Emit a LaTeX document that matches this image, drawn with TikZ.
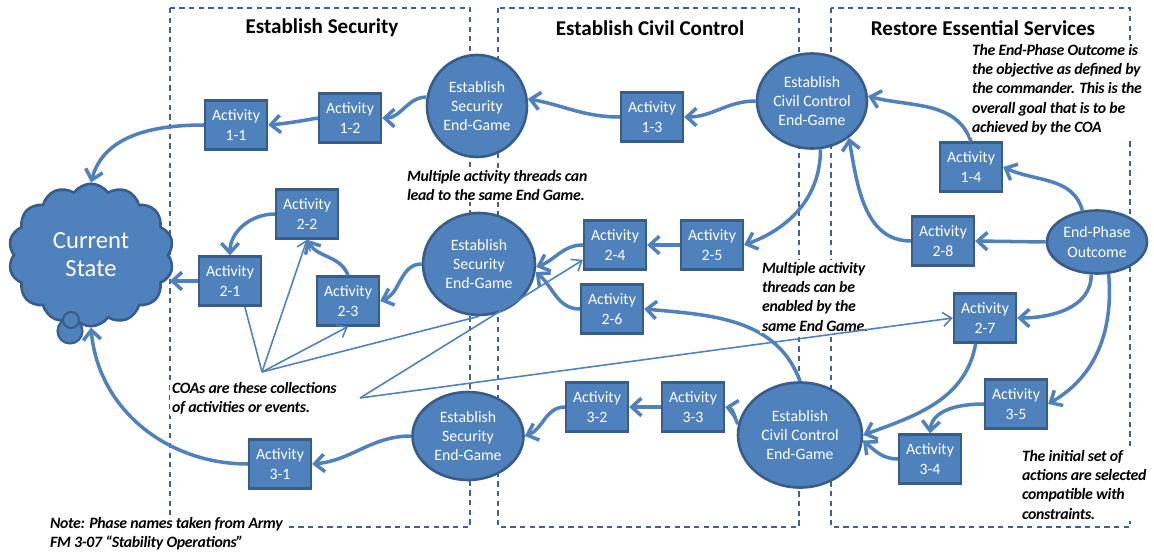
\documentclass[tikz,border=0pt]{standalone}
\usepackage{fontspec}
\setmainfont{Carlito}
\usetikzlibrary{shapes.geometric}
\usetikzlibrary{shapes.symbols}
\usetikzlibrary{arrows.meta}

\definecolor{boxfill}{HTML}{4F81BD}
\definecolor{boxline}{HTML}{385D8A}
\definecolor{panelline}{HTML}{44618A}

\begin{document}
\begin{tikzpicture}[x=0.02cm,y=-0.02cm]
	\tikzset{activity/.style = {shape=rectangle,draw=boxline,fill=boxfill,line width=1.3pt,
			minimum width=1.24cm,minimum height=0.98cm,inner sep=0pt,text=white,align=center,
			font=\fontsize{9}{11}\selectfont}}
	\tikzset{endgame/.style = {shape=ellipse,draw=boxline,fill=boxfill,line width=1.5pt,
			inner sep=0pt,text=white,align=center,font=\fontsize{9}{11}\selectfont}}
	\tikzset{state/.style = {shape=cloud,cloud puffs=14,cloud puff arc=110,aspect=1.2,
			draw=boxline,fill=boxfill,line width=1.5pt,minimum width=3.3cm,minimum height=2.85cm,
			inner sep=0pt,text=white,align=center,font=\fontsize{14}{16}\selectfont}}
	\tikzset{puff/.style = {draw=boxline,fill=boxfill,line width=1.2pt}}
	\tikzset{flow/.style = {-{Straight Barb[length=5.5pt,width=10pt]},draw=boxfill,line width=2pt}}
	\tikzset{coa/.style = {draw=boxfill,line width=0.9pt}}
	\tikzset{coatip/.style = {coa,-{Straight Barb[length=5pt,width=8pt]}}}
	\tikzset{panel/.style = {draw=panelline,line width=0.7pt,dash pattern=on 3pt off 2.5pt}}
	\tikzset{phase/.style = {font=\bfseries\fontsize{12}{14}\selectfont}}
	\tikzset{remark/.style = {anchor=north west,align=left,fill=white,inner sep=1pt,
			font=\bfseries\itshape\fontsize{9}{11}\selectfont\addfontfeatures{LetterSpace=-2}}}
	
	\useasboundingbox (0,0) rectangle (1154,554);
	
	% phases
	\draw[panel] (170,8) rectangle (470,527);
	\draw[panel] (498,8) rectangle (799,527);
	\draw[panel] (831,8) rectangle (1130,527);
	\node[phase] (t1) at (322,28) {Establish Security};
	\node[phase] (t2) at (650,28) {Establish Civil Control};
	\node[phase] (t3) at (983,28) {Restore Essential Services};
	
	% vertices
	\node[state] (cur) at (91,255) {Current\\State};
	\draw[puff] (70,331) circle[radius=0.25cm];
	\draw[puff] (71,320) circle[radius=0.16cm];
	
	\node[activity] (a11) at (236,125) {Activity\\1-1};
	\node[activity] (a12) at (350,118) {Activity\\1-2};
	\node[endgame,minimum width=2.0cm,minimum height=2.04cm] (sec1) at (477,106) {Establish\\Security\\End-Game};
	\node[activity] (a13) at (652,117) {Activity\\1-3};
	\node[endgame,minimum width=2.2cm,minimum height=1.9cm] (civ1) at (812,101) {Establish\\Civil Control\\End-Game};
	\node[activity] (a14) at (971,167) {Activity\\1-4};
	\node[endgame,minimum width=2.0cm,minimum height=1.26cm] (epo) at (1097,242) {End-Phase\\Outcome};
	
	\node[activity] (a21) at (230,281) {Activity\\2-1};
	\node[activity] (a22) at (307,214) {Activity\\2-2};
	\node[activity] (a23) at (348,301) {Activity\\2-3};
	\node[endgame,minimum width=2.24cm,minimum height=2.04cm] (sec2) at (479,264) {Establish\\Security\\End-Game};
	\node[activity] (a24) at (615,245) {Activity\\2-4};
	\node[activity] (a25) at (712,245) {Activity\\2-5};
	\node[activity] (a26) at (612,309) {Activity\\2-6};
	\node[activity] (a27) at (985,318) {Activity\\2-7};
	\node[activity] (a28) at (943,241) {Activity\\2-8};
	
	\node[activity] (a31) at (280,464) {Activity\\3-1};
	\node[endgame,minimum width=2.22cm,minimum height=1.76cm] (sec3) at (468,436) {Establish\\Security\\End-Game};
	\node[activity] (a32) at (597,407) {Activity\\3-2};
	\node[activity] (a33) at (693,407) {Activity\\3-3};
	\node[endgame,minimum width=2.48cm,minimum height=2.1cm] (civ2) at (800,435) {Establish\\Civil Control\\End-Game};
	\node[activity] (a34) at (930,459) {Activity\\3-4};
	\node[activity] (a35) at (1016,404) {Activity\\3-5};
	
	\coordinate (coa1) at (262,372);
	\coordinate (coa2) at (360,398);
	
	%edges
	\draw[flow] (a11.west) to[out=180,in=75] (cur.north);
	\draw[flow] (a12.west) to[out=190,in=5] (a11.east);
	\draw[flow] (sec1.170) to[out=180,in=0] (a12.east);
	\draw[flow] (a13.west) to[out=180,in=-10] (sec1.8);
	\draw[flow] (civ1.west) to[out=180,in=0] (a13.east);
	\draw[flow] (a14.north) to[out=110,in=-15] (civ1.5);
	\draw[flow] (epo.115) to[out=105,in=-25] (a14.east);
	
	\draw[flow] (epo.west) -- (a28.east);
	\draw[flow] (a28.west) to[out=180,in=-80] (civ1.-45);
	\draw[flow] (civ1.-80) to[out=-90,in=20] (a25.east);
	\draw[flow] (a25.west) -- (a24.east);
	\draw[flow] (a24.west) to[out=180,in=20] (sec2.-3);
	\draw[flow] (a26.west) to[out=180,in=-40] (sec2.-8);
	\draw[flow] (civ2.north) to[out=110,in=-5] (a26.east);
	\draw[flow] (sec2.west) to[out=180,in=20] (a23.east);
	\draw[flow] (a23.north) to[out=110,in=-60] (a22.south);
	\draw[flow] (a22.west) to[out=180,in=90] (a21.north);
	\draw[flow] (a21.west) -- (a21.west -| cur.east);
	\draw[flow] (epo.-100) to[out=-90,in=0] (a27.east);
	\draw[flow] (a27.-110) to[out=-100,in=20] (civ2.east);
	
	\draw[flow] (epo.-70) to[out=-85,in=30] (a35.east);
	\draw[flow] (a35.west) to[out=180,in=85] (a34.north);
	\draw[flow] (a34.west) to[out=180,in=-40] (civ2.-5);
	\draw[flow] (civ2.170) to[out=120,in=-10] (a33.east);
	\draw[flow] (a33.west) -- (a32.east);
	\draw[flow] (a32.west) to[out=180,in=20] (sec3.east);
	\draw[flow] (sec3.west) to[out=180,in=5] (a31.east);
	\draw[flow] (a31.west) to[out=180,in=-85] (cur.south);
	
	% remarks
	\node[remark] (m1) at (405,168) {Multiple activity threads can\\lead to the same End Game.};
	\node[remark] (m2) at (760,260) {Multiple activity\\threads can be\\enabled by the\\same End Game.};
	\node[remark] (m3) at (970,42) {The End-Phase Outcome is\\the objective as defined by\\the commander. This is the\\overall goal that is to be\\achieved by the COA};
	\node[remark] (m4) at (170,380) {COAs are these collections\\of activities or events.};
	\node[remark] (m5) at (1020,448) {The initial set of\\actions are selected\\compatible with\\constraints.};
	\node[remark] (m6) at (48,515) {Note: Phase names taken from Army\\FM 3-07 “Stability Operations”};
	
	% COA pointers
	\draw[coa] (coa1) -- (a21.-60);
	\draw[coatip] (coa1) -- (a22.south);
	\draw[coatip] (coa1) -- (a23.south);
	\draw[coa] (coa1) -- (sec2.south);
	\draw[coatip] (coa2) -- (a24.-155);
	\draw[coatip] (coa2) -- (a27.west);
\end{tikzpicture}
\end{document}
